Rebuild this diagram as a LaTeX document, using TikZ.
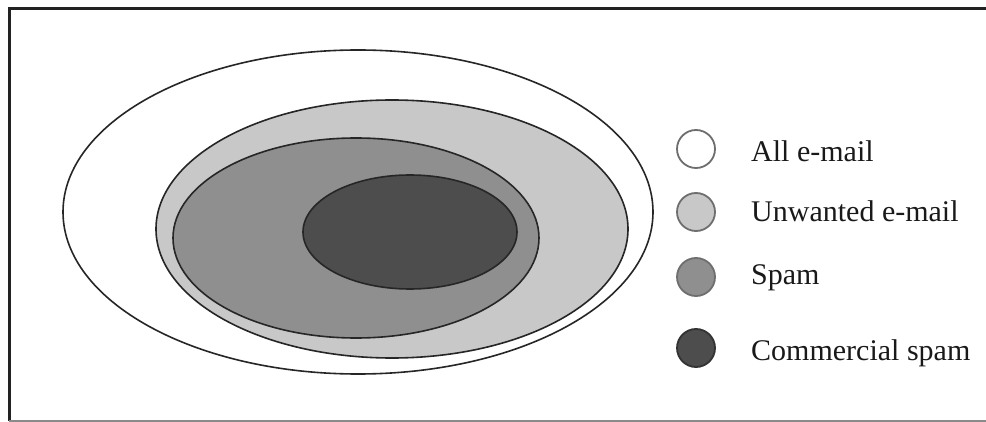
\documentclass[tikz,border=0pt]{standalone}
\usepackage{fontspec}
\setmainfont{Liberation Serif}
\usepackage{xcolor}
\usepackage{tikz}
\usetikzlibrary{positioning}
\definecolor{framegray}{HTML}{222222}
\definecolor{basegray}{HTML}{8A8A8A}
\definecolor{unwanted}{HTML}{C8C8C8}
\definecolor{spamfill}{HTML}{8F8F8F}
\definecolor{commfill}{HTML}{4D4D4D}
\definecolor{rimgray}{HTML}{6E6E6E}

\begin{document}
\begin{tikzpicture}[x=1pt,y=-1pt,
 set/.style={draw=black!85,line width=1.6pt},
 key/.style={circle,draw=rimgray,line width=1.8pt,minimum size=38pt,inner sep=0pt},
 lbl/.style={anchor=base west,inner sep=0pt,text=black!90,font=\fontsize{30}{36}\selectfont}]
\useasboundingbox (0,0) rectangle (986,422);
% frame
\draw[framegray,line width=3pt] (986,9) -- (9,9) -- (9,421);
\draw[basegray,line width=2.4pt] (9,421) -- (986,421);
% nested sets
\draw[set,fill=white] (358,212) ellipse [x radius=295,y radius=162];
\draw[set,fill=unwanted] (392,229) ellipse [x radius=236,y radius=129];
\draw[set,fill=spamfill] (356,238) ellipse [x radius=183,y radius=100];
\draw[set,fill=commfill] (410,232) ellipse [x radius=107,y radius=57];
% legend
\node[key,fill=white] (kall) at (696,149) {};
\node[key,fill=unwanted] (kunw) at (696,212) {};
\node[key,fill=spamfill] (kspam) at (696,277) {};
\node[key,fill=commfill,draw=black!80] (kcomm) at (696,348) {};
\node[lbl] (tall) at (751,162) {All e-mail};
\node[lbl] (tunw) at (751,222) {Unwanted e-mail};
\node[lbl] (tspam) at (751,285) {Spam};
\node[lbl] (tcomm) at (751,360) {Commercial spam};
\end{tikzpicture}
\end{document}
